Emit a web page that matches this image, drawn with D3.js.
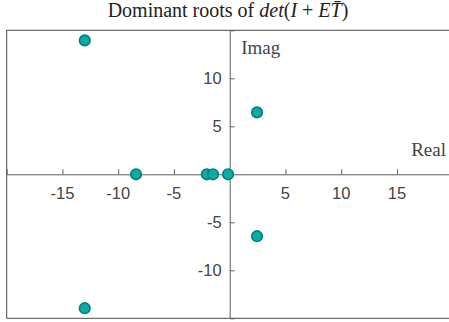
<!DOCTYPE html>
<html>
<head>
<meta charset="utf-8">
<script src="https://cdn.jsdelivr.net/npm/d3@7"></script>
<style>
  html, body { margin: 0; padding: 0; background: #fff; }
  svg { display: block; }
</style>
</head>
<body>
<svg id="chart" width="449" height="322"></svg>
<script>
// Dominant roots in the complex plane
const rootReal = [-13, -13, -8.4, -2.05, -1.5, -0.15, 2.45, 2.45];
const rootImag = [13.95, -13.95, 0, 0, 0, 0, 6.45, -6.45];
const xTicks = [-15, -10, -5, 5, 10, 15];
const yTicks = [-10, -5, 5, 10];
const xDomain = [-20, 20];
const yDomain = [-15, 15];

const svg = d3.select("#chart");
const x = d3.scaleLinear().domain(xDomain).range([6.7, 452.7]);
const y = d3.scaleLinear().domain(yDomain).range([318.3, 30.3]);

const frameColor = "#4a4a4a";
const axisColor = "#5e5e5e";
const textColor = "#444444";
const tickFont = "'Liberation Sans', Arial, sans-serif";
const serifFont = "'Liberation Serif', 'Times New Roman', serif";

// Box around the plot area
svg.append("rect")
  .attr("x", x(xDomain[0]))
  .attr("y", y(yDomain[1]))
  .attr("width", x(xDomain[1]) - x(xDomain[0]))
  .attr("height", y(yDomain[0]) - y(yDomain[1]))
  .attr("fill", "none")
  .attr("stroke", frameColor)
  .attr("stroke-width", 1);

// Horizontal axis through the origin, ticks pointing upward
const xAxis = d3.axisTop(x).tickValues(xTicks).tickSize(5).tickFormat("");
const gx = svg.append("g").attr("transform", `translate(0,${y(0)})`).call(xAxis);
gx.select(".domain").attr("stroke", axisColor);
gx.selectAll(".tick line").attr("stroke", axisColor);

svg.append("g").selectAll("text")
  .data(xTicks).join("text")
  .attr("x", d => x(d))
  .attr("y", y(0) + 24.5)
  .attr("text-anchor", "middle")
  .attr("font-family", tickFont)
  .attr("font-size", 16.5)
  .attr("fill", textColor)
  .text(d => d);

// Vertical axis through the origin, ticks pointing right
const yAxis = d3.axisRight(y).tickValues(yTicks).tickSize(5).tickFormat("");
const gy = svg.append("g").attr("transform", `translate(${x(0)},0)`).call(yAxis);
gy.select(".domain").attr("stroke", axisColor);
gy.selectAll(".tick line").attr("stroke", axisColor);

svg.append("g").selectAll("text")
  .data(yTicks).join("text")
  .attr("x", x(0) - 8)
  .attr("y", d => y(d) + 6)
  .attr("text-anchor", "end")
  .attr("font-family", tickFont)
  .attr("font-size", 16.5)
  .attr("fill", textColor)
  .text(d => d);

// Axis names
svg.append("text")
  .attr("x", x(0) + 11.5).attr("y", y(yDomain[1]) + 24)
  .attr("font-family", serifFont)
  .attr("font-size", 19)
  .attr("fill", textColor)
  .text("Imag");

svg.append("text")
  .attr("x", 446).attr("y", y(0) - 18.5)
  .attr("text-anchor", "end")
  .attr("font-family", serifFont)
  .attr("font-size", 19)
  .attr("fill", textColor)
  .text("Real");

// Title with the determinant expression set in italics
const title = svg.append("text")
  .attr("x", 228).attr("y", 17)
  .attr("text-anchor", "middle")
  .attr("font-family", serifFont)
  .attr("font-size", 20)
  .attr("fill", "#222");
const parts = [
  ["Dominant roots of ", "normal"],
  ["det", "italic"],
  ["(", "normal"],
  ["I", "italic"],
  [" + ", "normal"],
  ["E", "italic"],
  ["T\u0304", "italic"],
  [")", "normal"]
];
parts.forEach(([t, s]) => {
  title.append("tspan").attr("font-style", s).text(t);
});

// Root markers
svg.append("g").selectAll("circle")
  .data(rootReal.map((r, i) => ({ re: r, im: rootImag[i] })))
  .join("circle")
  .attr("cx", d => x(d.re))
  .attr("cy", d => y(d.im))
  .attr("r", 5.3)
  .attr("fill", "#0eaaa6")
  .attr("stroke", "#00807c")
  .attr("stroke-width", 1.6);
</script>
</body>
</html>
